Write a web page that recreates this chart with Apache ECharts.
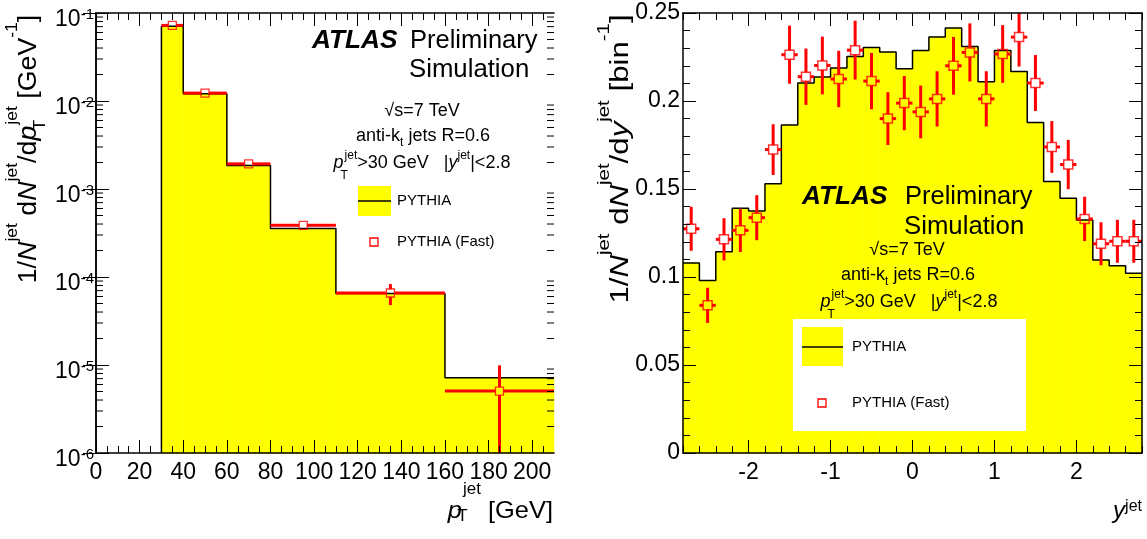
<!DOCTYPE html>
<html lang="en">
<head>
<meta charset="utf-8"/>
<title>ATLAS Preliminary Simulation - jet pT and rapidity</title>
<script src="https://cdn.jsdelivr.net/npm/echarts@6/dist/echarts.min.js"></script>
<style>
    html, body { margin: 0; padding: 0; background: #fff; }
    #main { width: 1147px; height: 539px; }
</style>
</head>
<body>
<div id="main"></div>
<script>
// ---- left panel: jet pT spectrum ----
const ptEdges = [30, 40, 60, 80, 110, 160, 210];
const ptPythia = [0.0705, 0.0121, 0.00185, 3.55e-4, 6.5e-5, 7.15e-6];
const ptFast = [0.0723, 0.0123, 0.00193, 3.87e-4, 6.58e-5, 5.05e-6];
const ptFastHi = [0.0735, 0.0125, 0.00197, 4.3e-4, 8.3e-5, 9.9e-6];
const ptFastLo = [0.0711, 0.0121, 0.00189, 3.45e-4, 4.8e-5, 0];
const ptTicks = [0, 20, 40, 60, 80, 100, 120, 140, 160, 180, 200];

// ---- right panel: jet rapidity ----
const rapEdges = [-2.8, -2.6, -2.4, -2.2, -2.0, -1.8, -1.6, -1.4, -1.2, -1.0, -0.8, -0.6, -0.4, -0.2, 0,
    0.2, 0.4, 0.6, 0.8, 1.0, 1.2, 1.4, 1.6, 1.8, 2.0, 2.2, 2.4, 2.6, 2.8];
const rapPythia = [0.108, 0.098, 0.1144, 0.139, 0.1375, 0.153, 0.1863, 0.2102, 0.2136, 0.2187, 0.2253, 0.2304,
    0.2278, 0.2183, 0.2287, 0.2363, 0.2415, 0.2310, 0.2109, 0.2287, 0.2168, 0.1878, 0.1542, 0.1447,
    0.1324, 0.1096, 0.1064, 0.1021];
const rapFast = [0.1274, 0.0839, 0.1214, 0.1265, 0.1337, 0.1724, 0.2263, 0.2138, 0.2202, 0.2125, 0.2289, 0.2113,
    0.1900, 0.1988, 0.1938, 0.2012, 0.2200, 0.2276, 0.2012, 0.2267, 0.2363, 0.2102, 0.1739, 0.1639,
    0.1330, 0.1189, 0.1203, 0.1203];
const rapFastErr = [0.0125, 0.010, 0.012, 0.0123, 0.0128, 0.0144, 0.0165, 0.016, 0.0164, 0.016, 0.0167, 0.016,
    0.015, 0.0154, 0.015, 0.0157, 0.0164, 0.0165, 0.0157, 0.0164, 0.0167, 0.0159, 0.0147, 0.014,
    0.0126, 0.0122, 0.0122, 0.0122];
const rapTicks = [-2, -1, 0, 1, 2];

const FONT = '"Liberation Sans", Arial, Helvetica, sans-serif';
const YELLOW = '#ffff00';
const RED = '#ff0000';

// minor tick positions
let ptMinor = [];
for (let v = 5; v < 210; v += 5) if (v % 20 !== 0) ptMinor.push(v);
let rapMinor = [];
for (let k = -14; k <= 14; k++) rapMinor.push(Math.round(k * 2) / 10);
let logMinor = [];
for (let e = -6; e < -1; e++) for (let m = 2; m <= 9; m++) logMinor.push(m * Math.pow(10, e));

function centers(edges) {
    return edges.slice(0, -1).map((e, i) => (e + edges[i + 1]) / 2);
}
function histData(edges, vals) {
    return vals.map((v, i) => [edges[i], edges[i + 1], v]);
}
function outline(edges, vals, startY) {
    let pts = [[edges[0], startY]];
    vals.forEach((v, i) => pts.push([edges[i + 1], v]));
    return pts;
}

function renderHist(params, api) {
    const p0 = api.coord([api.value(0), api.value(2)]);
    const p1 = api.coord([api.value(1), api.value(2)]);
    const cs = params.coordSys;
    const bottom = cs.y + cs.height;
    return {
        type: 'rect',
        shape: {x: p0[0], y: p0[1], width: p1[0] - p0[0], height: bottom - p0[1]},
        style: {fill: YELLOW, stroke: YELLOW, lineWidth: 0.6}
    };
}

function errorBars(gap, yFloor, yCeil) {
    return function (params, api) {
        const yv = api.value(3);
        const ylo = Math.max(api.value(4), yFloor);
        const yhi = Math.min(api.value(5), yCeil);
        const c = api.coord([api.value(2), yv]);
        const l = api.coord([api.value(0), yv]);
        const r = api.coord([api.value(1), yv]);
        const b = api.coord([api.value(2), ylo]);
        const t = api.coord([api.value(2), yhi]);
        const st = {stroke: RED, lineWidth: 3};
        let kids = [];
        if (c[0] - l[0] > gap) kids.push({type: 'line', shape: {x1: l[0], y1: c[1], x2: c[0] - gap, y2: c[1]}, style: st});
        if (r[0] - c[0] > gap) kids.push({type: 'line', shape: {x1: c[0] + gap, y1: c[1], x2: r[0], y2: c[1]}, style: st});
        if (b[1] - c[1] > gap) kids.push({type: 'line', shape: {x1: c[0], y1: c[1] + gap, x2: c[0], y2: b[1]}, style: st});
        if (c[1] - t[1] > gap) kids.push({type: 'line', shape: {x1: c[0], y1: t[1], x2: c[0], y2: c[1] - gap}, style: st});
        return {type: 'group', children: kids};
    };
}

function sideTicks(len) {
    return function (params, api) {
        const cs = params.coordSys;
        const y = api.coord([api.value(0), api.value(1)])[1];
        const st = {stroke: '#000', lineWidth: 1};
        return {
            type: 'group', children: [
                {type: 'line', shape: {x1: cs.x, y1: y, x2: cs.x + len, y2: y}, style: st},
                {type: 'line', shape: {x1: cs.x + cs.width - len, y1: y, x2: cs.x + cs.width, y2: y}, style: st}
            ]
        };
    };
}

// axis helpers
function xAx(grid, min, max, pos, ticks, len, labels, line) {
    return {
        type: 'value', gridIndex: grid, min: min, max: max, position: pos, z: 10,
        axisLine: {show: line, onZero: false, lineStyle: {color: '#000', width: 1.5}},
        axisTick: {show: true, inside: true, length: len, customValues: ticks, lineStyle: {color: '#000', width: 1}},
        axisLabel: labels ? {show: true, customValues: ticks, margin: 8, fontSize: 23, fontFamily: FONT, color: '#000'} : {show: false},
        splitLine: {show: false}
    };
}

// rich text styles for annotation texts (zrender style)
function rich(size, small, supPad, subPad) {
    return {
        m: {fontSize: size, fontFamily: FONT, fill: '#000'},
        i: {fontSize: size, fontFamily: FONT, fontStyle: 'italic', fill: '#000'},
        b: {fontSize: size, fontFamily: FONT, fontStyle: 'italic', fontWeight: 'bold', fill: '#000'},
        sp: {fontSize: small, fontFamily: FONT, fill: '#000', padding: [0, 0, supPad, 0]},
        sb: {fontSize: small, fontFamily: FONT, fill: '#000', padding: [subPad, 0, 0, 0], width: 1, align: 'left'},
        sbw: {fontSize: small, fontFamily: FONT, fill: '#000', padding: [Math.round(subPad / 2), 0, 0, 0]}
    };
}
function txt(x, y, text, r, align, rotation, sx) {
    return {
        type: 'text', x: x, y: y, z: 30, rotation: rotation || 0, scaleX: sx || 1,
        style: {text: text, rich: r, align: align || 'left', verticalAlign: 'middle'}
    };
}

const infoRich = rich(18, 12, 14, 26);
const bigRich = rich(25, 16, 20, 12);
const legRich = rich(15, 10, 8, 8);

const graphics = [
    // left panel annotations
    txt(312, 41, '{b|ATLAS}', bigRich, 'left', 0, 1.05),
    txt(410, 41, '{m|Preliminary}', bigRich, 'left', 0, 1.02),
    txt(409, 70, '{m|Simulation}', bigRich, 'left', 0, 1.03),
    txt(422, 111, '{m|√s=7 TeV}', infoRich, 'center'),
    txt(423, 136, '{m|anti-k}{sbw|t}{m| jets R=0.6}', infoRich, 'center'),
    txt(422, 163, '{i|p}{sb|T}{sp|jet}{m|>30 GeV   |}{i|y}{sp|jet}{m||<2.8}', infoRich, 'center'),
    {type: 'rect', z: 30, shape: {x: 358, y: 186, width: 33, height: 30}, style: {fill: YELLOW}},
    {type: 'line', z: 31, shape: {x1: 358, y1: 201, x2: 391, y2: 201}, style: {stroke: '#000', lineWidth: 1.5}},
    txt(397, 201, '{m|PYTHIA}', legRich),
    {type: 'rect', z: 31, shape: {x: 370, y: 238, width: 8, height: 8}, style: {fill: 'none', stroke: RED, lineWidth: 1.3}},
    txt(397, 242, '{m|PYTHIA (Fast)}', legRich),
    // right panel annotations
    txt(802, 197, '{b|ATLAS}', bigRich, 'left', 0, 1.05),
    txt(905, 197, '{m|Preliminary}', bigRich, 'left', 0, 1.02),
    txt(904, 227, '{m|Simulation}', bigRich, 'left', 0, 1.03),
    txt(907, 250, '{m|√s=7 TeV}', infoRich, 'center'),
    txt(908, 275, '{m|anti-k}{sbw|t}{m| jets R=0.6}', infoRich, 'center'),
    txt(909, 302, '{i|p}{sb|T}{sp|jet}{m|>30 GeV   |}{i|y}{sp|jet}{m||<2.8}', infoRich, 'center'),
    {type: 'rect', z: 29, shape: {x: 793, y: 319, width: 233, height: 112}, style: {fill: '#fff'}},
    {type: 'rect', z: 30, shape: {x: 802, y: 327, width: 41, height: 39}, style: {fill: YELLOW}},
    {type: 'line', z: 31, shape: {x1: 802, y1: 347, x2: 843, y2: 347}, style: {stroke: '#000', lineWidth: 1.5}},
    txt(852, 347, '{m|PYTHIA}', legRich),
    {type: 'rect', z: 31, shape: {x: 818, y: 399, width: 8, height: 8}, style: {fill: 'none', stroke: RED, lineWidth: 1.3}},
    txt(852, 403, '{m|PYTHIA (Fast)}', legRich),
    // axis titles
    txt(553, 511, '{i|p}{sb|T}{sp|jet}{m| [GeV]}', rich(24, 16, 42, 12), 'right', 0, 1.06),
    txt(1142, 511, '{i|y}{sp|jet}', rich(24, 16, 9, 0), 'right'),
    txt(29, 149, '{m|1/}{i|N}{sp|jet}{m| d}{i|N}{sp|jet}{m|/d}{i|p}{sb|T}{sp|jet}{m| [GeV}{sp|-1}{m|]}',
        rich(26, 17, 34, 22), 'center', Math.PI / 2, 1.03),
    txt(621, 159, '{m|1/}{i|N}{sp|jet}{m| d}{i|N}{sp|jet}{m|/d}{i|y}{sp|jet}{m| [bin}{sp|-1}{m|]}',
        rich(26, 17, 34, 22), 'center', Math.PI / 2, 1.2)
];

const chart = echarts.init(document.getElementById('main'));
const option = {
    animation: false,
    backgroundColor: '#fff',
    grid: [
        {left: 96, top: 13, width: 458, height: 440, containLabel: false, outerBoundsMode: 'none'},
        {left: 683, top: 13, width: 459, height: 440, containLabel: false, outerBoundsMode: 'none'}
    ],
    xAxis: [
        xAx(0, 0, 210, 'bottom', ptTicks, 13, true, true),
        xAx(0, 0, 210, 'bottom', ptMinor, 7, false, false),
        xAx(0, 0, 210, 'top', ptTicks, 13, false, true),
        xAx(0, 0, 210, 'top', ptMinor, 7, false, false),
        xAx(1, -2.8, 2.8, 'bottom', rapTicks, 13, true, true),
        xAx(1, -2.8, 2.8, 'bottom', rapMinor, 7, false, false),
        xAx(1, -2.8, 2.8, 'top', rapTicks, 13, false, true),
        xAx(1, -2.8, 2.8, 'top', rapMinor, 7, false, false)
    ],
    yAxis: [
        {
            type: 'log', logBase: 10, gridIndex: 0, min: 1e-6, max: 0.1, position: 'left', z: 10,
            axisLine: {show: true, lineStyle: {color: '#000', width: 1.5}},
            axisTick: {show: true, inside: true, length: 13, lineStyle: {color: '#000'}},
            axisLabel: {
                margin: 2,
                formatter: function (v) {
                    return '{b|10}{s|' + Math.round(Math.log10(v)) + '}';
                },
                rich: {
                    b: {fontSize: 23, fontFamily: FONT, color: '#000', padding: [14, 0, 0, 0]},
                    s: {fontSize: 15, fontFamily: FONT, color: '#000', padding: [4, 0, 0, 0]}
                }
            },
            splitLine: {show: false}
        },
        {
            type: 'log', logBase: 10, gridIndex: 0, min: 1e-6, max: 0.1, position: 'right', z: 10,
            axisLine: {show: true, lineStyle: {color: '#000', width: 1.5}},
            axisTick: {show: true, inside: true, length: 13, lineStyle: {color: '#000'}},
            axisLabel: {show: false},
            splitLine: {show: false}
        },
        {
            type: 'value', gridIndex: 1, min: 0, max: 0.25, interval: 0.05, position: 'left', z: 10,
            axisLine: {show: true, onZero: false, lineStyle: {color: '#000', width: 1.5}},
            axisTick: {show: true, inside: true, length: 13, lineStyle: {color: '#000'}},
            minorTick: {show: true, splitNumber: 5, length: 7, lineStyle: {color: '#000'}},
            axisLabel: {margin: 3, fontSize: 23, fontFamily: FONT, color: '#000'},
            splitLine: {show: false}
        },
        {
            type: 'value', gridIndex: 1, min: 0, max: 0.25, interval: 0.05, position: 'right', z: 10,
            axisLine: {show: true, onZero: false, lineStyle: {color: '#000', width: 1.5}},
            axisTick: {show: true, inside: true, length: 13, lineStyle: {color: '#000'}},
            minorTick: {show: true, splitNumber: 5, length: 7, lineStyle: {color: '#000'}},
            axisLabel: {show: false},
            splitLine: {show: false}
        }
    ],
    series: [
        {
            name: 'PYTHIA', type: 'custom', xAxisIndex: 0, yAxisIndex: 0, z: 1,
            renderItem: renderHist, encode: {x: [0, 1], y: 2}, data: histData(ptEdges, ptPythia)
        },
        {
            name: 'PYTHIA outline', type: 'line', xAxisIndex: 0, yAxisIndex: 0, z: 2, step: 'start',
            showSymbol: false, lineStyle: {color: '#000', width: 1.5}, data: outline(ptEdges, ptPythia, 1e-6)
        },
        {
            name: 'PYTHIA (Fast) errors', type: 'custom', xAxisIndex: 0, yAxisIndex: 0, z: 3,
            renderItem: errorBars(4, 1e-6, 0.1), encode: {x: [0, 1, 2], y: 3},
            data: ptFast.map((v, i) => [ptEdges[i], ptEdges[i + 1], centers(ptEdges)[i], v, ptFastLo[i], ptFastHi[i]])
        },
        {
            name: 'PYTHIA (Fast)', type: 'scatter', xAxisIndex: 0, yAxisIndex: 0, z: 4,
            symbol: 'rect', symbolSize: 8,
            itemStyle: {color: 'rgba(0,0,0,0)', borderColor: RED, borderWidth: 1.3},
            data: ptFast.map((v, i) => [centers(ptEdges)[i], v])
        },
        {
            name: 'log minor ticks', type: 'custom', xAxisIndex: 0, yAxisIndex: 0, z: 10,
            renderItem: sideTicks(7), encode: {x: 0, y: 1}, data: logMinor.map(v => [0, v])
        },
        {
            name: 'PYTHIA y', type: 'custom', xAxisIndex: 4, yAxisIndex: 2, z: 1,
            renderItem: renderHist, encode: {x: [0, 1], y: 2}, data: histData(rapEdges, rapPythia)
        },
        {
            name: 'PYTHIA y outline', type: 'line', xAxisIndex: 4, yAxisIndex: 2, z: 2, step: 'start',
            showSymbol: false, lineStyle: {color: '#000', width: 1.5}, data: outline(rapEdges, rapPythia, rapPythia[0])
        },
        {
            name: 'PYTHIA (Fast) y errors', type: 'custom', xAxisIndex: 4, yAxisIndex: 2, z: 3,
            renderItem: errorBars(4.5, 0, 0.25), encode: {x: [0, 1, 2], y: 3},
            data: rapFast.map((v, i) => [rapEdges[i], rapEdges[i + 1], centers(rapEdges)[i], v,
                v - rapFastErr[i], v + rapFastErr[i]])
        },
        {
            name: 'PYTHIA (Fast) y', type: 'scatter', xAxisIndex: 4, yAxisIndex: 2, z: 4,
            symbol: 'rect', symbolSize: 9,
            itemStyle: {color: 'rgba(0,0,0,0)', borderColor: RED, borderWidth: 1.5},
            data: rapFast.map((v, i) => [centers(rapEdges)[i], v])
        }
    ],
    graphic: graphics
};
chart.setOption(option);
</script>
</body>
</html>
